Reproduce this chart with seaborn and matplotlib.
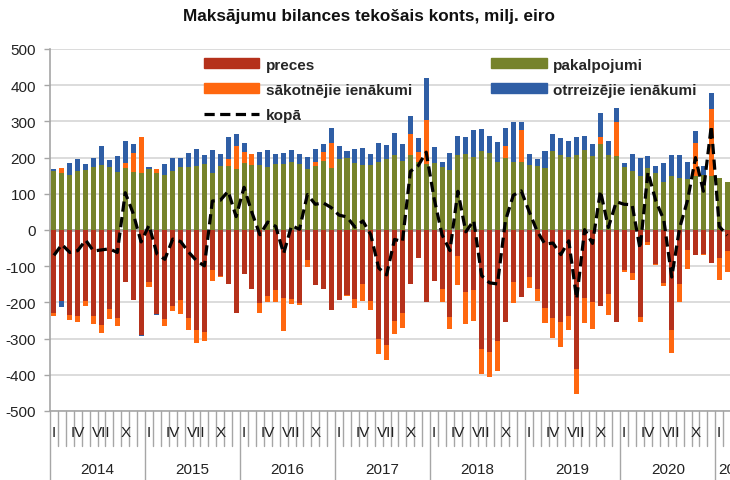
import numpy as np
import matplotlib
matplotlib.use('Agg')
import matplotlib.pyplot as plt
import seaborn as sns
from matplotlib.patches import Patch
from matplotlib.lines import Line2D

# Monthly data, 2014-I .. 2021-II (milj. eiro)
years = ['2014', '2015', '2016', '2017', '2018', '2019', '2020', '2021']
month_marks = {0: 'I', 3: 'IV', 6: 'VII', 9: 'X'}

preces = [-229, -196, -234, -237, -197, -238, -262, -217, -242, -143, -193, -289,
          -143, -233, -245, -209, -193, -243, -275, -282, -110, -126, -150, -229,
          -122, -164, -203, -182, -165, -187, -191, -202, -84, -152, -163, -222,
          -192, -179, -191, -150, -196, -300, -317, -251, -228, -150, -78, -199,
          -142, -163, -239, -73, -172, -166, -329, -337, -308, -255, -145, -185,
          -129, -163, -216, -243, -253, -237, -384, -188, -199, -211, -176, -253,
          -110, -119, -241, -32, -94, -147, -275, -150, -55, -69, -66, -90,
          -78, -58]
pakalpojumi = [163, 158, 153, 163, 167, 175, 179, 175, 160, 172, 161, 158,
               169, 158, 153, 162, 173, 175, 178, 182, 158, 177, 178, 168,
               184, 180, 179, 174, 182, 182, 189, 183, 169, 176, 190, 171,
               197, 200, 186, 179, 179, 189, 195, 208, 190, 206, 188, 182,
               184, 173, 167, 208, 211, 202, 218, 212, 188, 198, 188, 187,
               179, 176, 172, 219, 208, 202, 208, 221, 205, 237, 206, 204,
               174, 164, 150, 170, 158, 133, 150, 144, 140, 149, 153, 149,
               145, 133]
sakotnejie = [-8, 14, -14, -17, -13, -21, -23, -30, -24, 12, 53, 100,
              -15, 11, -19, -16, -38, -32, -36, -25, -30, -5, 19, 65,
              32, 31, -25, -16, -33, -93, -14, -5, -19, 13, 26, 70,
              -2, -3, -25, -46, -24, -42, -42, -36, -42, 59, 27, 121,
              1, -36, -34, -80, -88, -84, -70, -68, -82, 35, -57, 88,
              -32, -34, -42, -55, -69, -38, -68, -69, -75, 21, -60, 94,
              -7, -18, -13, -9, -4, -9, -65, -50, -53, 90, -3, 184,
              -60, -57]
otrreizejie = [6, -17, 32, 33, 16, 23, 52, 19, 44, 62, 23, -5,
               4, -3, 29, 38, 25, 38, 46, 25, 62, 34, 60, 33,
               25, 0, 37, 47, 27, 32, 31, 26, 33, 34, 22, 42,
               36, 19, 37, 48, 30, 50, 41, 60, 48, 49, 40, 117,
               43, 15, 47, 53, 45, 75, 61, 48, 55, 50, 109, 22,
               32, 20, 47, 45, 46, 44, 49, 39, 32, 65, 40, 40,
               12, 46, 49, 35, 19, 51, 57, 64, 48, 35, 23, 45,
               0, 0]
kopa = [-70, -40, -62, -57, -28, -58, -55, -52, -62, 103, 46, -33,
        13, -66, -81, -25, -32, -61, -85, -99, 80, 82, 107, 37,
        118, 48, -13, 22, 10, -65, 12, 2, 98, 71, 75, 62,
        41, 36, 8, 25, -13, -105, -124, -26, -32, 162, 178, 215,
        87, -13, -57, 107, -5, 26, -126, -146, -149, 25, 96, 108,
        51, -3, -39, -36, -68, -30, -190, 1, -37, 108, 7, 78,
        71, 70, -52, 160, 80, 28, -130, 6, 82, 200, 107, 288,
        10, -15]

series = [('preces', preces, '#B5311B'),
          ('pakalpojumi', pakalpojumi, '#76832B'),
          ('sākotnējie ienākumi', sakotnejie, '#FF670F'),
          ('otrreizējie ienākumi', otrreizejie, '#2F5EA5')]

sns.set_theme(style='white')
plt.rcParams['font.family'] = ['Liberation Sans', 'DejaVu Sans']

W, H = 730, 481
fig = plt.figure(figsize=(W / 100, H / 100), dpi=100)
n = len(preces)
ax_left, ax_top, ax_bot = 50, 50, 412
ax_w = n * 7.92
ax = fig.add_axes([ax_left / W, (H - ax_bot) / H, ax_w / W, (ax_bot - ax_top) / H])

# stacked bars: positives and negatives stack separately, like Excel
x = np.arange(n)
pos_bottom = np.zeros(n)
neg_bottom = np.zeros(n)
for name, vals, col in series:
    v = np.array(vals, dtype=float)
    bottom = np.where(v >= 0, pos_bottom, neg_bottom)
    ax.bar(x, v, bottom=bottom, width=0.64, color=col, linewidth=0, zorder=3)
    pos_bottom += np.clip(v, 0, None)
    neg_bottom += np.clip(v, None, 0)

dash = (0, (3.2, 1.7))
line_df = {'x': x, 'kopa': kopa}
sns.lineplot(data=line_df, x='x', y='kopa', ax=ax, color='black', lw=2.3,
             linestyle=dash, zorder=5)

ax.set_xlim(-0.5, n - 0.5)
ax.set_ylim(-500, 500)
ax.set_yticks(range(-500, 501, 100))
ax.set_yticklabels([str(v) for v in range(-500, 501, 100)], fontsize=11, color='#222222')
ax.set_xticks([])
ax.set_xlabel('')
ax.set_ylabel('')
ax.grid(axis='y', color='#D9D9D9', lw=1.3, zorder=0)
ax.axhline(0, color='#A6A6A6', lw=2, zorder=2)
for s in ['top', 'right']:
    ax.spines[s].set_visible(False)
for s in ['left', 'bottom']:
    ax.spines[s].set_color('#A6A6A6')
    ax.spines[s].set_linewidth(1.2)
ax.tick_params(axis='y', left=True, length=4, width=1, color='#A6A6A6', pad=6)

# multi-level category axis
tr = ax.get_xaxis_transform()
axh = ax_bot - ax_top
for k in range(n + 1):
    is_year = k % 12 == 0
    ax.plot([k - 0.5, k - 0.5], [0, -(70 if is_year else 35) / axh], transform=tr,
            color='#A6A6A6', lw=1, clip_on=False)
for k in range(n):
    if k % 12 in month_marks:
        ax.text(k, -21 / axh, month_marks[k % 12], transform=tr, ha='center',
                va='center', fontsize=11, color='#222222')
for i, yr in enumerate(years):
    cx = 12 * i + 5.5 if i < len(years) - 1 else 12 * i + 2
    ax.text(cx, -58 / axh, yr, transform=tr, ha='center', va='center',
            fontsize=11, color='#222222', clip_on=False)

fig.text(369 / W, 1 - 17 / H, 'Maksājumu bilances tekošais konts, milj. eiro',
         ha='center', va='center', fontsize=12.3, fontweight='bold', color='#111111')

handles = [Patch(color=series[0][2], label=series[0][0]),
           Patch(color=series[2][2], label=series[2][0]),
           Line2D([], [], color='black', lw=2.3, linestyle=dash, label='kopā'),
           Patch(color=series[1][2], label=series[1][0]),
           Patch(color=series[3][2], label=series[3][0])]
leg = fig.legend(handles=handles, ncol=2, loc='upper left',
                 bbox_to_anchor=(196 / W, 1 - 51 / H), frameon=False, borderpad=0,
                 handlelength=3.65, handleheight=0.6, handletextpad=0.4,
                 columnspacing=5.2, labelspacing=0.72,
                 prop={'size': 11, 'weight': 'bold'})

fig.savefig('out.png', dpi=100, facecolor='white')
